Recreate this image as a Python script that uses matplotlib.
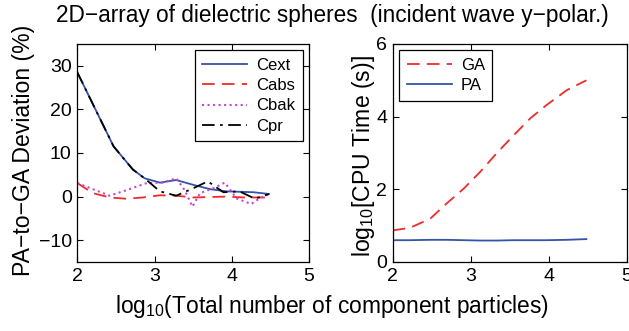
import matplotlib
matplotlib.use('Agg')
import matplotlib.pyplot as plt

plt.rcParams['font.family'] = ['Liberation Sans', 'DejaVu Sans']
plt.rcParams['mathtext.fontset'] = 'custom'
plt.rcParams['mathtext.rm'] = 'Liberation Sans'
plt.rcParams['mathtext.it'] = 'Liberation Sans:italic'

# left panel: deviation of PA from GA (%)
x_cext = [2.0, 2.47, 2.72, 2.87, 3.07, 3.28, 3.5, 3.72, 3.93, 4.28, 4.48]
cext = [28.5, 11.5, 6.2, 4.2, 3.2, 3.8, 2.7, 1.7, 1.2, 1.0, 0.6]

x_cabs = [2.0, 2.2, 2.42, 2.64, 2.85, 3.07, 3.28, 3.5, 3.93, 4.15, 4.48]
cabs = [3.1, 0.8, -0.2, -0.5, -0.2, 0.3, 0.2, -0.2, 0.0, -0.2, -0.2]

x_cbak = [2.0, 2.42, 2.64, 2.9, 3.11, 3.28, 3.39, 3.49, 3.59, 3.76, 3.91, 4.06, 4.25, 4.36, 4.48]
cbak = [3.1, 0.2, 1.5, 3.1, 3.2, 4.2, 1.5, -2.3, 0.8, 1.9, 3.2, -0.4, -1.7, -0.4, 0.6]

x_cpr = [2.0, 2.47, 2.72, 2.87, 3.07, 3.28, 3.5, 3.69, 3.89, 4.1, 4.3, 4.48]
cpr = [28.5, 11.5, 6.2, 4.2, 1.2, 0.2, 1.9, 3.5, 1.0, 1.2, -0.5, 0.6]

# right panel: log10 CPU time
x_time = [2.0, 2.22, 2.48, 2.69, 2.91, 3.12, 3.33, 3.55, 3.76, 3.97, 4.23, 4.48]
ga_time = [0.87, 0.94, 1.19, 1.61, 2.02, 2.48, 2.99, 3.49, 3.95, 4.32, 4.73, 5.0]
pa_time = [0.6, 0.6, 0.61, 0.61, 0.6, 0.59, 0.59, 0.6, 0.6, 0.6, 0.61, 0.63]

blue = '#3553a8'
red = '#f02a2a'
magenta = '#c848c8'

fig = plt.figure(figsize=(6.29, 3.31), dpi=100)
ax1 = fig.add_axes([0.1229, 0.2085, 0.3684, 0.6586])
ax2 = fig.add_axes([0.6243, 0.2085, 0.3725, 0.6586])

ax1.plot(x_cext, cext, color=blue, lw=1.3, label='Cext')
ax1.plot(x_cabs, cabs, color=red, lw=1.3, dashes=(7, 4), label='Cabs')
ax1.plot(x_cbak, cbak, color=magenta, lw=1.5, linestyle=':', label='Cbak')
ax1.plot(x_cpr, cpr, color='black', lw=1.3, dashes=(7, 3, 1.5, 3), label='Cpr')
ax1.set_xlim(2, 5)
ax1.set_ylim(-15, 35)
ax1.set_xticks([2, 3, 4, 5])
ax1.set_yticks([-10, 0, 10, 20, 30])
ax1.set_yticklabels(['\u221210', '0', '10', '20', '30'])

leg_kw = dict(fontsize=12, fancybox=False, framealpha=1, edgecolor='black',
              handlelength=2.7, handletextpad=0.55, borderpad=0.45,
              labelspacing=0.32, borderaxespad=0.38)
leg1 = ax1.legend(loc='upper right', **leg_kw)
leg1.get_frame().set_linewidth(0.9)

ax2.plot(x_time, ga_time, color=red, lw=1.3, dashes=(7, 4), label='GA')
ax2.plot(x_time, pa_time, color=blue, lw=1.3, label='PA')
ax2.set_xlim(2, 5)
ax2.set_ylim(0, 6)
ax2.set_xticks([2, 3, 4, 5])
ax2.set_yticks([0, 2, 4, 6])
leg2 = ax2.legend(loc='upper left', **leg_kw)
leg2.get_frame().set_linewidth(0.9)

for ax in (ax1, ax2):
    ax.tick_params(direction='in', top=True, right=True, labelsize=14,
                   length=4, width=0.8, pad=4)
    for s in ax.spines.values():
        s.set_linewidth(0.9)

fig.text(0.528, 0.953, '2D\u2212array of dielectric spheres  (incident wave y\u2212polar.)',
         ha='center', va='center', fontsize=16.3)
fig.text(0.527, 0.075, r'log$_{10}$(Total number of component particles)',
         ha='center', va='center', fontsize=16.4)
fig.text(0.037, 0.547, 'PA\u2212to\u2212GA Deviation (%)', rotation=90,
         ha='center', va='center', fontsize=16.6)
fig.text(0.578, 0.529, r'log$_{10}$[CPU Time (s)]', rotation=90,
         ha='center', va='center', fontsize=16.6)

fig.savefig('out.png', dpi=100)
